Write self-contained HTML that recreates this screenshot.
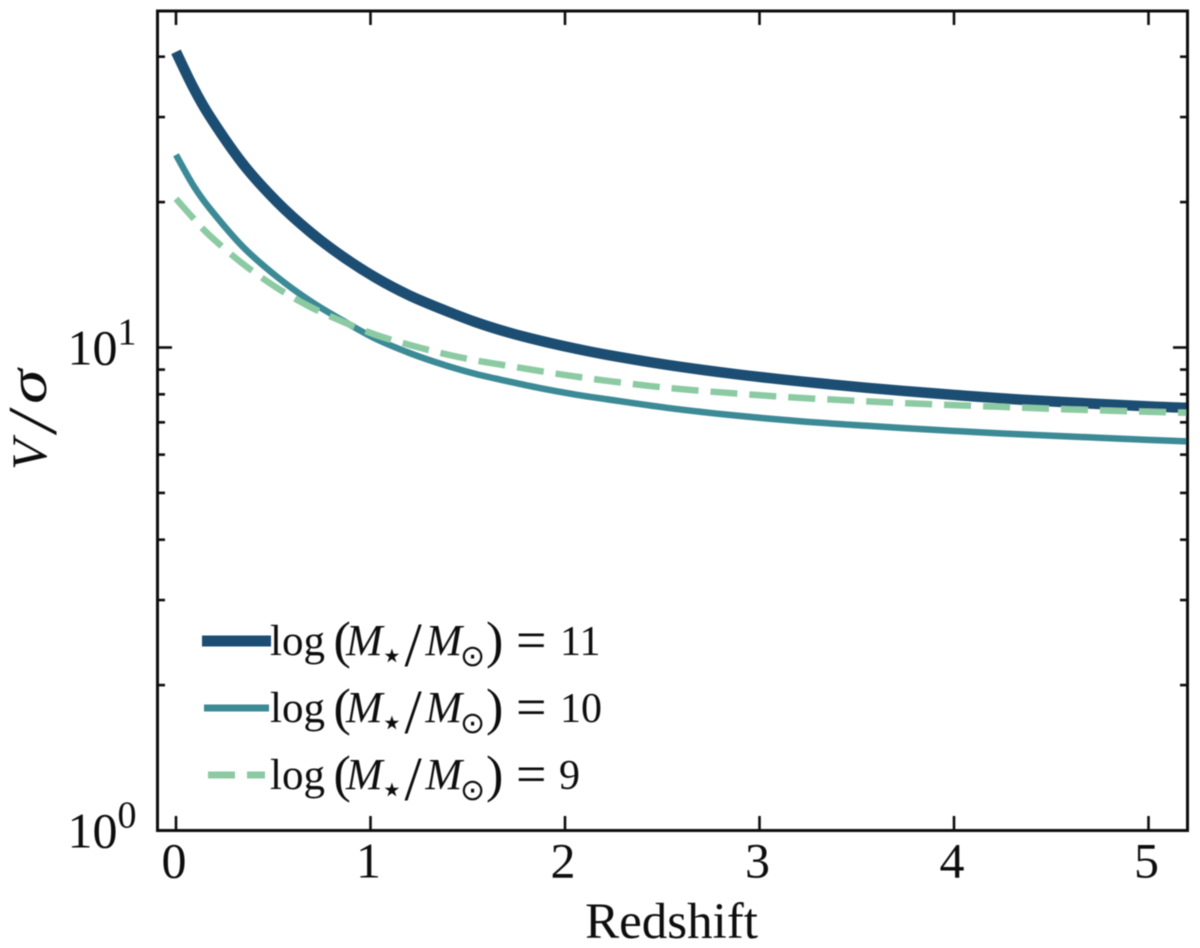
<!DOCTYPE html>
<html>
<head>
<meta charset="utf-8">
<title>V/sigma vs redshift</title>
<style>
html,body{margin:0;padding:0;background:#fff;}
svg{display:block;}
text{font-family:"Liberation Serif","DejaVu Serif",serif;fill:#111;}
</style>
</head>
<body>
<svg id="chart" xmlns="http://www.w3.org/2000/svg" width="1200" height="948" viewBox="0 0 1200 948">
  <defs>
    <clipPath id="plot-clip"><rect x="158" y="11" width="1029.5" height="819.5"/></clipPath>
    <filter id="soft" x="-5%" y="-5%" width="110%" height="110%"><feGaussianBlur stdDeviation="0.45"/></filter>
    <g id="legend-math">
      <text x="270" y="0" font-size="43">log</text>
      <text x="333.5" y="2.5" font-size="52">(</text>
      <text x="346" y="0" font-size="44" font-style="italic">M</text>
      <text x="380" y="13" font-size="38" style="font-family:'DejaVu Sans',sans-serif">⋆</text>
      <text x="404.5" y="11" font-size="62">/</text>
      <text x="425.5" y="0" font-size="44" font-style="italic">M</text>
      <text x="460" y="11" font-size="30" style="font-family:'DejaVu Sans',sans-serif">⊙</text>
      <text x="486" y="2.5" font-size="52">)</text>
      <text x="516" y="3" font-size="54">=</text>
    </g>
  </defs>
  <g filter="url(#soft)">
  <g id="series" clip-path="url(#plot-clip)"></g>
  <g id="ticks"></g>
  <rect x="157.5" y="11" width="1030" height="819.5" fill="none" stroke="#111" stroke-width="3"/>
  <g id="tick-labels"></g>

  <text x="671.5" y="938" font-size="51" text-anchor="middle">Redshift</text>
  <g>
    <text font-size="50" font-style="italic" transform="translate(46,470) rotate(-90)">V</text>
    <text font-size="70" font-style="italic" transform="translate(56,432) rotate(-90)">/</text>
    <text font-size="50" font-style="italic" transform="translate(46,404) rotate(-90) scale(1.4,1.1)">σ</text>
  </g>

  <g>
    <g>
      <line x1="202" y1="641" x2="271" y2="641" stroke="#1f4e72" stroke-width="11"/>
      <use href="#legend-math" transform="translate(0,655)"/>
      <text x="560" y="655" font-size="42">11</text>
    </g>
    <g>
      <line x1="204" y1="708" x2="269" y2="708" stroke="#3b8a96" stroke-width="7"/>
      <use href="#legend-math" transform="translate(0,722)"/>
      <text x="560" y="722" font-size="42">10</text>
    </g>
    <g>
      <line x1="208" y1="775" x2="265" y2="775" stroke="#8ccaa3" stroke-width="7" stroke-dasharray="27 12"/>
      <use href="#legend-math" transform="translate(0,789)"/>
      <text x="559" y="789" font-size="42">9</text>
    </g>
  </g>
  </g>
</svg>
<script>
// Chart data
const xTickValues = [0, 1, 2, 3, 4, 5];
const yMajorTicks = [1, 10];
const yMinorTicks = [2, 3, 4, 5, 6, 7, 8, 9, 20, 30, 40];
const yTickExponents = [0, 1];

const redshift = [0, 0.087, 0.175, 0.344, 0.519, 0.689, 0.859, 1.028, 1.198, 1.368, 1.537, 1.707, 1.877, 2.046, 2.216, 2.524, 2.864, 3.208, 3.553, 3.892, 4.237, 4.581, 4.997, 5.198];
const vMass11 = [40.95, 34.65, 30.04, 24.00, 20.03, 17.36, 15.41, 13.94, 12.83, 12.00, 11.30, 10.75, 10.32, 9.962, 9.658, 9.208, 8.822, 8.511, 8.252, 8.039, 7.850, 7.701, 7.555, 7.502];
const vMass10 = [25.06, 21.72, 19.37, 16.16, 14.01, 12.49, 11.36, 10.42, 9.751, 9.231, 8.822, 8.511, 8.232, 8.000, 7.813, 7.502, 7.239, 7.034, 6.885, 6.755, 6.641, 6.547, 6.439, 6.393];
const vMass9 = [20.32, 18.56, 17.03, 14.90, 13.29, 12.14, 11.30, 10.62, 10.13, 9.727, 9.408, 9.165, 8.929, 8.717, 8.532, 8.252, 8.039, 7.867, 7.737, 7.627, 7.537, 7.447, 7.360, 7.325];

const SVG_NS = 'http://www.w3.org/2000/svg';

function xScale(z) { return 176 + 194.5 * z; }
function yScale(v) { return 830.5 - 483 * Math.log10(v); }

function smoothPath(zs, vs) {
  const pts = zs.map(function (z, i) { return [xScale(z), yScale(vs[i])]; });
  let d = 'M' + pts[0][0].toFixed(2) + ' ' + pts[0][1].toFixed(2);
  for (let i = 0; i < pts.length - 1; i++) {
    const p0 = pts[Math.max(i - 1, 0)];
    const p1 = pts[i];
    const p2 = pts[i + 1];
    const p3 = pts[Math.min(i + 2, pts.length - 1)];
    const c1x = p1[0] + (p2[0] - p0[0]) / 6;
    const c1y = p1[1] + (p2[1] - p0[1]) / 6;
    const c2x = p2[0] - (p3[0] - p1[0]) / 6;
    const c2y = p2[1] - (p3[1] - p1[1]) / 6;
    d += 'C' + c1x.toFixed(2) + ' ' + c1y.toFixed(2) + ' ' + c2x.toFixed(2) + ' ' + c2y.toFixed(2) + ' ' + p2[0].toFixed(2) + ' ' + p2[1].toFixed(2);
  }
  return d;
}

const seriesLayer = document.getElementById('series');
const tickLayer = document.getElementById('ticks');
const labelLayer = document.getElementById('tick-labels');

function addSeries(name, zs, vs, color, width, dash) {
  const p = document.createElementNS(SVG_NS, 'path');
  
  
  p.setAttribute('d', smoothPath(zs, vs));
  p.setAttribute('fill', 'none');
  p.setAttribute('stroke', color);
  p.setAttribute('stroke-width', width);
  if (dash) p.setAttribute('stroke-dasharray', dash);
  seriesLayer.appendChild(p);
}

addSeries('series-mass-11', redshift, vMass11, '#1f4e72', 10.5, null);
addSeries('series-mass-10', redshift, vMass10, '#3b8a96', 6.5, null);
addSeries('series-mass-9', redshift, vMass9, '#8ccaa3', 6.5, '27 12');

function addTick(name, x1, y1, x2, y2) {
  const t = document.createElementNS(SVG_NS, 'line');
  
  
  t.setAttribute('x1', x1);
  t.setAttribute('y1', y1);
  t.setAttribute('x2', x2);
  t.setAttribute('y2', y2);
  t.setAttribute('stroke', '#111');
  t.setAttribute('stroke-width', 2.6);
  tickLayer.appendChild(t);
}

xTickValues.forEach(function (z) {
  const x = xScale(z);
  addTick('x-tick-bottom', x, 830.5, x, 816);
  addTick('x-tick-top', x, 11, x, 25);
  const label = document.createElementNS(SVG_NS, 'text');
  
  
  label.setAttribute('x', x - 2);
  label.setAttribute('y', 877.5);
  label.setAttribute('font-size', 50);
  label.setAttribute('text-anchor', 'middle');
  label.textContent = String(z);
  labelLayer.appendChild(label);
});

yMajorTicks.forEach(function (v, i) {
  const y = yScale(v);
  addTick('y-tick-major-left', 158, y, 172, y);
  addTick('y-tick-major-right', 1187, y, 1173, y);
  const base = document.createElementNS(SVG_NS, 'text');
  
  
  base.setAttribute('x', 67.5);
  base.setAttribute('y', y + 17);
  base.setAttribute('font-size', 50);
  base.textContent = '10';
  labelLayer.appendChild(base);
  const sup = document.createElementNS(SVG_NS, 'text');
  
  
  sup.setAttribute('x', 117.5);
  sup.setAttribute('y', y - 3);
  sup.setAttribute('font-size', 38);
  sup.textContent = String(yTickExponents[i]);
  labelLayer.appendChild(sup);
});

yMinorTicks.forEach(function (v) {
  const y = yScale(v);
  addTick('y-tick-minor-left', 158, y, 165, y);
  addTick('y-tick-minor-right', 1187, y, 1180, y);
});
</script>
</body>
</html>
